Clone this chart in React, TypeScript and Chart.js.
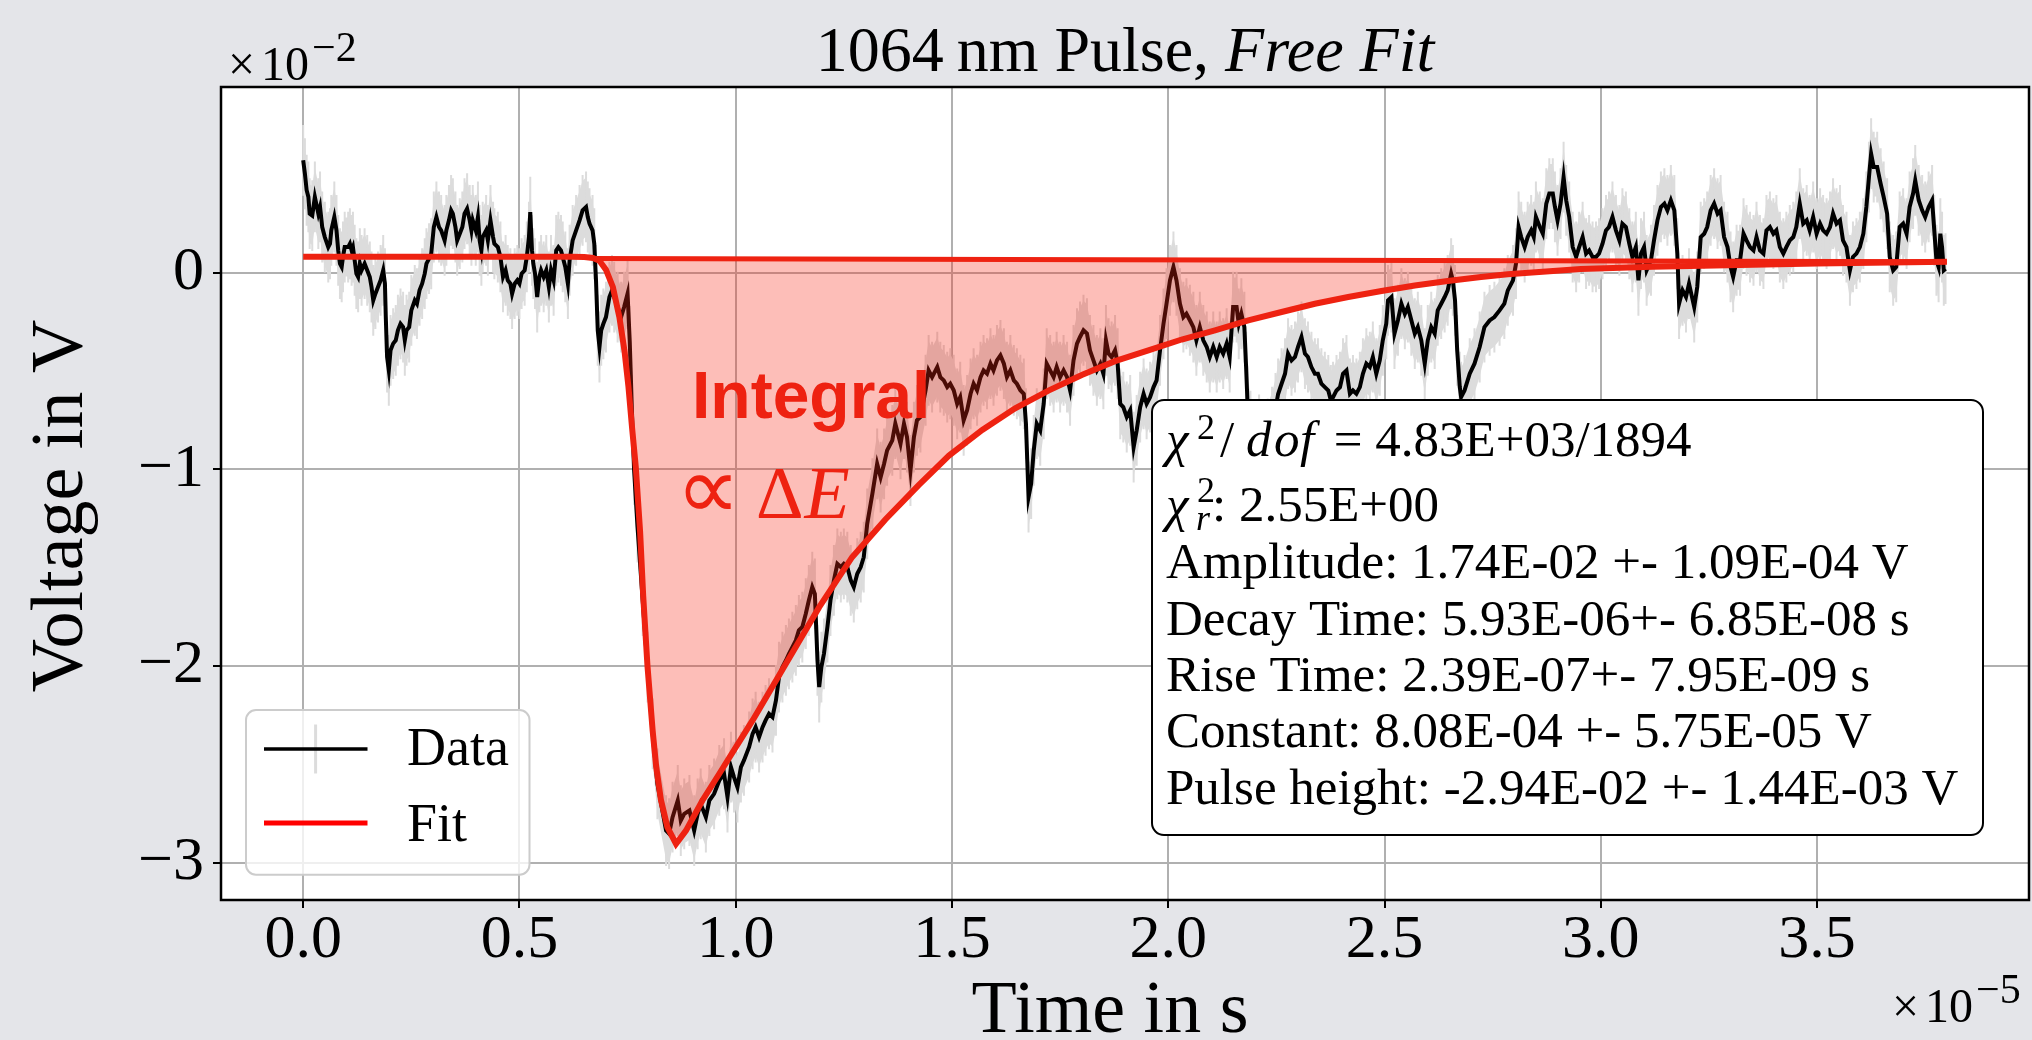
import React, { useEffect, useRef } from 'react';
import { Chart, registerables } from 'chart.js';

Chart.register(...registerables);

// ---- data (time in units of 1e-5 s, voltage in units of 1e-2 V) ----
const timeData = [
  0.000, 0.004, 0.008, 0.012, 0.015, 0.021, 0.027, 0.035, 0.039, 0.044,
  0.050, 0.058, 0.062, 0.065, 0.072, 0.077, 0.081, 0.085, 0.089, 0.092,
  0.096, 0.104, 0.108, 0.112, 0.115, 0.119, 0.123, 0.127, 0.131, 0.135,
  0.142, 0.148, 0.154, 0.158, 0.162, 0.167, 0.173, 0.179, 0.185, 0.189,
  0.191, 0.194, 0.198, 0.202, 0.208, 0.214, 0.219, 0.225, 0.231, 0.235,
  0.239, 0.245, 0.250, 0.258, 0.263, 0.269, 0.275, 0.281, 0.285, 0.291,
  0.296, 0.302, 0.308, 0.314, 0.319, 0.327, 0.331, 0.337, 0.342, 0.346,
  0.352, 0.356, 0.362, 0.368, 0.373, 0.379, 0.385, 0.389, 0.392, 0.399,
  0.404, 0.408, 0.412, 0.415, 0.423, 0.427, 0.433, 0.439, 0.442, 0.450,
  0.456, 0.462, 0.468, 0.473, 0.479, 0.483, 0.489, 0.495, 0.500, 0.505,
  0.512, 0.517, 0.522, 0.525, 0.529, 0.532, 0.536, 0.541, 0.546, 0.550,
  0.556, 0.562, 0.568, 0.573, 0.579, 0.585, 0.590, 0.596, 0.600, 0.606,
  0.612, 0.616, 0.623, 0.631, 0.639, 0.646, 0.654, 0.658, 0.662, 0.669,
  0.673, 0.677, 0.681, 0.685, 0.689, 0.694, 0.700, 0.708, 0.714, 0.719,
  0.727, 0.735, 0.742, 0.750, 0.755, 0.760, 0.765, 0.773, 0.785, 0.796,
  0.808, 0.819, 0.839, 0.846, 0.854, 0.866, 0.873, 0.881, 0.893, 0.904,
  0.912, 0.919, 0.931, 0.939, 0.950, 0.962, 0.973, 0.981, 0.989, 0.996,
  1.004, 1.012, 1.019, 1.031, 1.039, 1.046, 1.054, 1.062, 1.069, 1.077,
  1.085, 1.093, 1.100, 1.108, 1.116, 1.123, 1.131, 1.139, 1.146, 1.154,
  1.162, 1.169, 1.177, 1.183, 1.189, 1.193, 1.198, 1.204, 1.212, 1.219,
  1.227, 1.235, 1.243, 1.250, 1.258, 1.266, 1.273, 1.281, 1.289, 1.296,
  1.304, 1.316, 1.327, 1.335, 1.343, 1.350, 1.362, 1.369, 1.381, 1.389,
  1.396, 1.404, 1.412, 1.419, 1.427, 1.439, 1.446, 1.454, 1.466, 1.473,
  1.481, 1.489, 1.496, 1.504, 1.512, 1.519, 1.527, 1.535, 1.543, 1.550,
  1.558, 1.566, 1.573, 1.581, 1.589, 1.596, 1.604, 1.612, 1.620, 1.627,
  1.635, 1.643, 1.650, 1.658, 1.666, 1.671, 1.677, 1.683, 1.689, 1.696,
  1.704, 1.712, 1.719, 1.727, 1.735, 1.742, 1.750, 1.758, 1.766, 1.773,
  1.781, 1.789, 1.796, 1.804, 1.812, 1.819, 1.827, 1.835, 1.843, 1.850,
  1.856, 1.862, 1.869, 1.877, 1.883, 1.889, 1.896, 1.904, 1.912, 1.920,
  1.927, 1.935, 1.943, 1.950, 1.958, 1.966, 1.973, 1.981, 1.989, 1.996,
  2.004, 2.012, 2.019, 2.027, 2.035, 2.042, 2.050, 2.058, 2.065, 2.073,
  2.081, 2.089, 2.096, 2.104, 2.112, 2.119, 2.127, 2.135, 2.142, 2.150,
  2.158, 2.163, 2.169, 2.176, 2.180, 2.183, 2.190, 2.200, 2.210, 2.220,
  2.230, 2.240, 2.248, 2.254, 2.262, 2.270, 2.277, 2.285, 2.293, 2.300,
  2.308, 2.316, 2.323, 2.331, 2.339, 2.346, 2.354, 2.362, 2.370, 2.376,
  2.381, 2.389, 2.397, 2.404, 2.412, 2.420, 2.427, 2.435, 2.443, 2.450,
  2.458, 2.466, 2.473, 2.481, 2.489, 2.496, 2.504, 2.508, 2.516, 2.523,
  2.531, 2.539, 2.547, 2.554, 2.562, 2.570, 2.577, 2.585, 2.593, 2.600,
  2.608, 2.616, 2.623, 2.631, 2.639, 2.646, 2.654, 2.658, 2.663, 2.668,
  2.674, 2.677, 2.685, 2.697, 2.708, 2.720, 2.731, 2.743, 2.754, 2.766,
  2.777, 2.785, 2.797, 2.804, 2.810, 2.816, 2.824, 2.831, 2.839, 2.845,
  2.850, 2.859, 2.866, 2.874, 2.881, 2.889, 2.894, 2.900, 2.907, 2.914,
  2.920, 2.927, 2.935, 2.943, 2.950, 2.958, 2.966, 2.973, 2.981, 2.989,
  2.996, 3.004, 3.012, 3.019, 3.027, 3.035, 3.043, 3.050, 3.058, 3.066,
  3.073, 3.081, 3.087, 3.093, 3.100, 3.106, 3.116, 3.123, 3.131, 3.139,
  3.147, 3.154, 3.162, 3.170, 3.177, 3.181, 3.189, 3.197, 3.204, 3.216,
  3.223, 3.231, 3.239, 3.246, 3.254, 3.262, 3.270, 3.277, 3.285, 3.293,
  3.300, 3.306, 3.314, 3.322, 3.330, 3.337, 3.345, 3.353, 3.360, 3.368,
  3.376, 3.383, 3.391, 3.399, 3.406, 3.414, 3.422, 3.429, 3.437, 3.445,
  3.452, 3.460, 3.468, 3.476, 3.483, 3.491, 3.499, 3.507, 3.514, 3.522,
  3.530, 3.537, 3.545, 3.553, 3.560, 3.568, 3.576, 3.583, 3.591, 3.599,
  3.607, 3.614, 3.620, 3.625, 3.631, 3.639, 3.647, 3.654, 3.662, 3.668,
  3.676, 3.683, 3.691, 3.699, 3.707, 3.714, 3.722, 3.727, 3.735, 3.743,
  3.750, 3.758, 3.766, 3.771, 3.776, 3.781, 3.785, 3.789, 3.793, 3.797,
];

const voltageData = [
  0.571, 0.503, 0.419, 0.385, 0.300, 0.290, 0.385, 0.300, 0.334, 0.232,
  0.181, 0.130, 0.147, 0.215, 0.283, 0.215, 0.113, 0.046, 0.029, 0.080,
  0.130, 0.130, 0.147, 0.113, 0.130, 0.063, -0.005, -0.022, 0.046, 0.012,
  0.046, 0.012, -0.022, -0.073, -0.141, -0.107, -0.073, -0.039, 0.012, -0.056,
  -0.226, -0.429, -0.497, -0.395, -0.361, -0.344, -0.293, -0.260, -0.277, -0.344,
  -0.293, -0.277, -0.192, -0.141, -0.158, -0.090, -0.056, -0.005, 0.046, 0.071,
  0.096, 0.232, 0.283, 0.232, 0.215, 0.164, 0.215, 0.266, 0.317, 0.300,
  0.232, 0.164, 0.198, 0.232, 0.300, 0.325, 0.266, 0.215, 0.266, 0.215,
  0.283, 0.164, 0.113, 0.181, 0.215, 0.164, 0.266, 0.181, 0.147, 0.130,
  0.080, -0.022, 0.012, -0.039, -0.056, -0.107, -0.056, -0.039, -0.056, -0.005,
  0.012, 0.080, 0.181, 0.308, 0.113, 0.046, -0.005, -0.124, -0.022, 0.012,
  -0.022, 0.012, -0.073, 0.012, -0.039, 0.113, 0.130, 0.113, 0.080, 0.029,
  -0.056, 0.063, 0.164, 0.215, 0.266, 0.317, 0.334, 0.283, 0.249, 0.215,
  0.147, -0.039, -0.293, -0.378, -0.293, -0.260, -0.226, -0.124, -0.090, -0.124,
  -0.175, -0.226, -0.175, -0.107, -0.350, -0.700, -1.000, -1.294, -1.667, -2.006,
  -2.345, -2.600, -2.837, -2.853, -2.769, -2.684, -2.786, -2.752, -2.735, -2.837,
  -2.752, -2.701, -2.769, -2.684, -2.650, -2.582, -2.548, -2.667, -2.514, -2.565,
  -2.616, -2.514, -2.480, -2.412, -2.345, -2.311, -2.362, -2.311, -2.277, -2.243,
  -2.260, -2.175, -2.057, -2.006, -1.972, -1.938, -1.904, -1.870, -1.819, -1.802,
  -1.734, -1.667, -1.599, -1.633, -1.972, -2.107, -2.006, -1.938, -1.802, -1.667,
  -1.565, -1.481, -1.497, -1.481, -1.497, -1.565, -1.599, -1.531, -1.497, -1.447,
  -1.277, -1.124, -0.972, -1.040, -0.972, -0.904, -0.853, -0.768, -0.870, -0.768,
  -0.836, -1.006, -0.836, -0.751, -0.734, -0.598, -0.497, -0.531, -0.480, -0.531,
  -0.548, -0.582, -0.565, -0.598, -0.667, -0.633, -0.751, -0.700, -0.616, -0.565,
  -0.598, -0.531, -0.497, -0.514, -0.463, -0.497, -0.446, -0.421, -0.463, -0.531,
  -0.497, -0.548, -0.565, -0.598, -0.616, -0.768, -1.141, -1.073, -0.904, -0.768,
  -0.802, -0.667, -0.463, -0.497, -0.531, -0.480, -0.531, -0.497, -0.531, -0.598,
  -0.446, -0.361, -0.327, -0.293, -0.310, -0.395, -0.446, -0.497, -0.463, -0.514,
  -0.344, -0.412, -0.429, -0.395, -0.463, -0.667, -0.684, -0.734, -0.700, -0.887,
  -0.802, -0.684, -0.616, -0.667, -0.633, -0.582, -0.548, -0.395, -0.260, -0.158,
  -0.039, 0.029, -0.039, -0.158, -0.226, -0.209, -0.242, -0.277, -0.344, -0.277,
  -0.344, -0.378, -0.429, -0.378, -0.429, -0.378, -0.412, -0.361, -0.429, -0.175,
  -0.175, -0.260, -0.209, -0.277, -0.480, -0.650, -0.780, -0.850, -0.800, -0.880,
  -0.820, -0.760, -0.690, -0.617, -0.565, -0.514, -0.412, -0.446, -0.429, -0.378,
  -0.327, -0.412, -0.429, -0.480, -0.514, -0.514, -0.565, -0.582, -0.599, -0.650,
  -0.633, -0.599, -0.582, -0.514, -0.497, -0.616, -0.599, -0.616, -0.582, -0.514,
  -0.463, -0.480, -0.429, -0.514, -0.446, -0.344, -0.260, -0.141, -0.124, -0.310,
  -0.242, -0.158, -0.209, -0.175, -0.242, -0.310, -0.277, -0.344, -0.463, -0.344,
  -0.277, -0.310, -0.192, -0.158, -0.124, -0.090, -0.005, -0.039, -0.141, -0.395,
  -0.582, -0.633, -0.599, -0.514, -0.463, -0.378, -0.277, -0.243, -0.226, -0.192,
  -0.158, -0.090, -0.039, 0.046, 0.232, 0.181, 0.130, 0.181, 0.215, 0.181,
  0.283, 0.232, 0.198, 0.351, 0.402, 0.402, 0.334, 0.266, 0.351, 0.486,
  0.368, 0.283, 0.130, 0.080, 0.130, 0.181, 0.097, 0.113, 0.080, 0.080,
  0.097, 0.147, 0.215, 0.232, 0.283, 0.215, 0.164, 0.249, 0.232, 0.147,
  0.080, 0.130, -0.039, 0.097, 0.130, 0.012, 0.063, 0.164, 0.266, 0.334,
  0.351, 0.317, 0.368, 0.317, 0.097, -0.158, -0.090, -0.124, -0.056, -0.175,
  -0.073, 0.181, 0.198, 0.232, 0.317, 0.351, 0.300, 0.317, 0.181, 0.130,
  0.029, -0.022, 0.063, 0.063, 0.198, 0.164, 0.130, 0.113, 0.181, 0.113,
  0.097, 0.215, 0.232, 0.198, 0.215, 0.130, 0.097, 0.130, 0.164, 0.181,
  0.232, 0.351, 0.249, 0.266, 0.215, 0.283, 0.198, 0.249, 0.215, 0.198,
  0.232, 0.300, 0.249, 0.266, 0.164, 0.130, 0.012, 0.080, 0.097, 0.130,
  0.198, 0.334, 0.486, 0.605, 0.537, 0.537, 0.452, 0.385, 0.300, 0.080,
  0.012, 0.029, 0.232, 0.249, 0.198, 0.334, 0.402, 0.469, 0.368, 0.317,
  0.283, 0.334, 0.368, 0.215, 0.063, 0.029, 0.198, 0.130, 0.012, 0.020,
];

// half-length of the vertical error bars (1e-2 V)
const voltageError = 0.15;

// fitted pulse curve
const fitTime = [
  0.000, 0.500, 0.620, 0.650, 0.670, 0.685, 0.700, 0.716, 0.731, 0.743,
  0.752, 0.760, 0.769, 0.779, 0.786, 0.796, 0.808, 0.816, 0.827, 0.842,
  0.862, 0.885, 0.923, 0.962, 1.039, 1.116, 1.193, 1.269, 1.346, 1.423,
  1.493, 1.570, 1.646, 1.723, 1.800, 1.877, 1.954, 2.031, 2.108, 2.185,
  2.262, 2.339, 2.416, 2.493, 2.570, 2.646, 2.723, 2.785, 2.954, 3.120,
  3.293, 3.500, 3.800,
];
const fitVoltage = [
  0.081, 0.081, 0.081, 0.080, 0.075, 0.060, 0.015, -0.073, -0.226, -0.400,
  -0.580, -0.780, -0.990, -1.320, -1.640, -2.000, -2.330, -2.510, -2.680, -2.820,
  -2.905, -2.837, -2.684, -2.548, -2.277, -1.989, -1.701, -1.447, -1.255, -1.080,
  -0.930, -0.800, -0.690, -0.600, -0.520, -0.450, -0.395, -0.340, -0.293, -0.243,
  -0.200, -0.158, -0.124, -0.093, -0.065, -0.042, -0.022, -0.008, 0.018, 0.030,
  0.038, 0.046, 0.055,
];

// straight edge that closes the shaded "integral" region
const areaEdgeTime = [0.675, 3.8];
const areaEdgeVoltage = [0.072, 0.055];

const xTicks = [0, 0.5, 1.0, 1.5, 2.0, 2.5, 3.0, 3.5];
const yTicks = [-3, -2, -1, 0];
const xRange = [-0.19, 3.99];
const yRange = [-3.19, 0.944];

const titleRegular = '1064\u2009nm Pulse, ';
const titleItalic = 'Free Fit';
const xLabel = 'Time in s';
const yLabel = 'Voltage in V';
const legendLabels = ['Data', 'Fit'];
const integralLabel = 'Integral';
const chiLine = ' = 4.83E+03/1894';
const chiRedLine = ': 2.55E+00';
const paramLines = [
  'Amplitude: 1.74E-02 +- 1.09E-04 V',
  'Decay Time: 5.93E-06+- 6.85E-08 s',
  'Rise Time: 2.39E-07+- 7.95E-09 s',
  'Constant: 8.08E-04 +- 5.75E-05 V',
  'Pulse height: -2.94E-02 +- 1.44E-03 V',
];

const SERIF = "'Liberation Serif', 'Times New Roman', serif";
const SANS = "'Liberation Sans', Arial, sans-serif";
const ACCENT = '#ee2211';
const BG = '#e4e5e9';

function roundRect(ctx: CanvasRenderingContext2D, x: number, y: number, w: number, h: number, r: number) {
  ctx.beginPath();
  ctx.moveTo(x + r, y);
  ctx.lineTo(x + w - r, y);
  ctx.arcTo(x + w, y, x + w, y + r, r);
  ctx.lineTo(x + w, y + h - r);
  ctx.arcTo(x + w, y + h, x + w - r, y + h, r);
  ctx.lineTo(x + r, y + h);
  ctx.arcTo(x, y + h, x, y + h - r, r);
  ctx.lineTo(x, y + r);
  ctx.arcTo(x, y, x + r, y, r);
  ctx.closePath();
}

const backgroundPlugin = {
  id: 'plotBackground',
  beforeDraw(chart: any) {
    const { ctx, chartArea: a } = chart;
    ctx.save();
    ctx.fillStyle = '#ffffff';
    ctx.fillRect(a.left, a.top, a.right - a.left, a.bottom - a.top);
    ctx.restore();
  },
};

const errorBandPlugin = {
  id: 'errorBand',
  beforeDatasetsDraw(chart: any) {
    const { ctx, chartArea: a } = chart;
    const xs = chart.scales.x;
    const ys = chart.scales.y;
    ctx.save();
    ctx.beginPath();
    ctx.rect(a.left, a.top, a.right - a.left, a.bottom - a.top);
    ctx.clip();
    ctx.fillStyle = '#dcdcdc';
    ctx.beginPath();
    for (let i = 0; i < timeData.length; i++) {
      const px = xs.getPixelForValue(timeData[i]);
      const py = ys.getPixelForValue(voltageData[i] + voltageError);
      if (i === 0) ctx.moveTo(px, py);
      else ctx.lineTo(px, py);
    }
    for (let i = timeData.length - 1; i >= 0; i--) {
      ctx.lineTo(xs.getPixelForValue(timeData[i]), ys.getPixelForValue(voltageData[i] - voltageError));
    }
    ctx.closePath();
    ctx.fill();
    // vertical bars for the jagged error-bar look
    ctx.strokeStyle = '#dcdcdc';
    ctx.lineWidth = 2;
    ctx.beginPath();
    for (let i = 0; i < timeData.length; i++) {
      const px = xs.getPixelForValue(timeData[i]);
      ctx.moveTo(px, ys.getPixelForValue(voltageData[i] + voltageError * 1.2));
      ctx.lineTo(px, ys.getPixelForValue(voltageData[i] - voltageError * 1.2));
    }
    ctx.stroke();
    ctx.restore();
  },
};

const decorPlugin = {
  id: 'decor',
  afterDraw(chart: any) {
    const { ctx, chartArea: a } = chart;
    ctx.save();
    ctx.textAlign = 'left';
    ctx.textBaseline = 'alphabetic';

    // spines
    ctx.strokeStyle = '#000';
    ctx.lineWidth = 2.5;
    ctx.strokeRect(a.left, a.top, a.right - a.left, a.bottom - a.top);

    // "Integral ∝ ΔE"
    ctx.fillStyle = ACCENT;
    ctx.font = `bold 66px ${SANS}`;
    ctx.fillText(integralLabel, 692, 418);
    ctx.font = `90px 'DejaVu Sans', sans-serif`;
    ctx.fillText('\u221D', 676, 519);
    ctx.font = `74px ${SERIF}`;
    ctx.fillText('\u0394', 756, 518);
    const dW = ctx.measureText('\u0394').width;
    ctx.font = `italic 74px ${SERIF}`;
    ctx.fillText('E', 756 + dW + 1, 518);

    // title
    ctx.fillStyle = '#000';
    ctx.font = `64px ${SERIF}`;
    const w1 = ctx.measureText(titleRegular).width;
    ctx.font = `italic 64px ${SERIF}`;
    const w2 = ctx.measureText(titleItalic).width;
    const tx = (a.left + a.right) / 2 - (w1 + w2) / 2;
    ctx.font = `64px ${SERIF}`;
    ctx.fillText(titleRegular, tx, 71);
    ctx.font = `italic 64px ${SERIF}`;
    ctx.fillText(titleItalic, tx + w1, 71);

    // offset labels
    const drawOffset = (x: number, y: number, exp: string) => {
      ctx.font = `48px ${SERIF}`;
      ctx.fillText('\u00D7', x, y);
      const wx = ctx.measureText('\u00D7').width;
      ctx.fillText('10', x + wx + 6, y);
      const w10 = ctx.measureText('10').width;
      ctx.font = `42px ${SERIF}`;
      ctx.fillText(exp, x + wx + 6 + w10 + 3, y - 19);
    };
    drawOffset(228, 80, '\u22122');
    drawOffset(1892, 1022, '\u22125');

    // axis titles
    ctx.font = `74px ${SERIF}`;
    ctx.textAlign = 'center';
    ctx.fillText(xLabel, 1110, 1032);
    ctx.save();
    ctx.translate(82, 506);
    ctx.rotate(-Math.PI / 2);
    ctx.fillText(yLabel, 0, 0);
    ctx.restore();
    ctx.textAlign = 'left';

    // legend
    roundRect(ctx, 246, 710, 283.5, 164.7, 10);
    ctx.fillStyle = 'rgba(255,255,255,0.8)';
    ctx.fill();
    ctx.strokeStyle = '#cccccc';
    ctx.lineWidth = 2;
    ctx.stroke();
    ctx.strokeStyle = '#dcdcdc';
    ctx.lineWidth = 3;
    ctx.beginPath();
    ctx.moveTo(315.6, 724.5);
    ctx.lineTo(315.6, 773.5);
    ctx.stroke();
    ctx.strokeStyle = '#000';
    ctx.lineWidth = 3.5;
    ctx.beginPath();
    ctx.moveTo(264, 749);
    ctx.lineTo(367.5, 749);
    ctx.stroke();
    ctx.strokeStyle = 'red';
    ctx.lineWidth = 5;
    ctx.beginPath();
    ctx.moveTo(264, 823);
    ctx.lineTo(367.5, 823);
    ctx.stroke();
    ctx.fillStyle = '#000';
    ctx.font = `54px ${SERIF}`;
    ctx.fillText(legendLabels[0], 407, 764.5);
    ctx.fillText(legendLabels[1], 407, 841);

    // fit result box
    roundRect(ctx, 1152, 400, 831, 435, 12);
    ctx.fillStyle = '#ffffff';
    ctx.fill();
    ctx.strokeStyle = '#000';
    ctx.lineWidth = 2;
    ctx.stroke();
    ctx.fillStyle = '#000';
    const fs = 51;
    // line 1: chi^2 / dof = ...
    ctx.font = `italic ${fs}px ${SERIF}`;
    ctx.fillText('\u03C7', 1166, 456);
    ctx.font = `36px ${SERIF}`;
    ctx.fillText('2', 1197, 439);
    ctx.font = `${fs}px ${SERIF}`;
    ctx.fillText('/', 1220, 456);
    ctx.font = `italic ${fs}px ${SERIF}`;
    ctx.fillText('d', 1246, 456);
    ctx.fillText('o', 1274, 456);
    ctx.fillText('f', 1300, 456);
    ctx.font = `${fs}px ${SERIF}`;
    ctx.fillText(chiLine, 1321, 456);
    // line 2: chi^2_r
    ctx.font = `italic ${fs}px ${SERIF}`;
    ctx.fillText('\u03C7', 1166, 521);
    ctx.font = `36px ${SERIF}`;
    ctx.fillText('2', 1197, 502);
    ctx.font = `italic 36px ${SERIF}`;
    ctx.fillText('r', 1196, 530);
    ctx.font = `${fs}px ${SERIF}`;
    ctx.fillText(chiRedLine, 1212, 521);
    // parameter lines
    const baselines = [578, 634.6, 691.4, 747.4, 804];
    paramLines.forEach((s, i) => ctx.fillText(s, 1166, baselines[i]));

    ctx.restore();
  },
};

export default function App() {
  const canvasRef = useRef<HTMLCanvasElement>(null);

  useEffect(() => {
    const canvas = canvasRef.current;
    if (!canvas) return;
    const dataPoints = timeData.map((t, i) => ({ x: t, y: voltageData[i] }));
    const fitPoints = fitTime.map((t, i) => ({ x: t, y: fitVoltage[i] }));
    const edgePoints = areaEdgeTime.map((t, i) => ({ x: t, y: areaEdgeVoltage[i] }));
    const tickFont = { family: SERIF, size: 62, lineHeight: 1 };

    const chart = new Chart(canvas, {
      type: 'scatter',
      data: {
        datasets: [
          {
            label: 'Data',
            data: dataPoints,
            showLine: true,
            borderColor: '#000000',
            borderWidth: 4,
            pointRadius: 0,
            tension: 0,
            order: 3,
          },
          {
            label: 'Integral',
            data: edgePoints,
            showLine: true,
            borderColor: ACCENT,
            borderWidth: 5,
            pointRadius: 0,
            fill: 2,
            backgroundColor: 'rgba(250, 40, 20, 0.3)',
            order: 2,
          },
          {
            label: 'Fit',
            data: fitPoints,
            showLine: true,
            borderColor: ACCENT,
            borderWidth: 6,
            pointRadius: 0,
            tension: 0,
            order: 1,
          },
        ],
      } as any,
      options: {
        animation: false,
        responsive: false,
        maintainAspectRatio: false,
        devicePixelRatio: 1,
        events: [],
        layout: { padding: { top: 87, right: 3, left: 0, bottom: 0 } },
        plugins: {
          legend: { display: false },
          title: { display: false },
          tooltip: { enabled: false },
        },
        scales: {
          x: {
            type: 'linear',
            min: xRange[0],
            max: xRange[1],
            afterBuildTicks: (s: any) => {
              s.ticks = xTicks.map((v) => ({ value: v }));
            },
            afterFit: (s: any) => {
              s.height = 140;
            },
            ticks: {
              callback: (v: any) => Number(v).toFixed(1),
              font: tickFont,
              color: '#000',
              padding: 2,
              maxRotation: 0,
              autoSkip: false,
            },
            grid: { color: '#b0b0b0', lineWidth: 2, tickColor: '#000', tickLength: 8, tickWidth: 2 },
            border: { display: false },
          },
          y: {
            type: 'linear',
            min: yRange[0],
            max: yRange[1],
            afterBuildTicks: (s: any) => {
              s.ticks = yTicks.map((v) => ({ value: v }));
            },
            afterFit: (s: any) => {
              s.width = 221;
            },
            ticks: {
              callback: (v: any) => (Number(v) === 0 ? '0' : '\u2212' + Math.abs(Number(v))),
              font: tickFont,
              color: '#000',
              padding: 9,
              autoSkip: false,
            },
            grid: { color: '#b0b0b0', lineWidth: 2, tickColor: '#000', tickLength: 8, tickWidth: 2 },
            border: { display: false },
          },
        },
      } as any,
      plugins: [backgroundPlugin, errorBandPlugin, decorPlugin],
    });
    return () => chart.destroy();
  }, []);

  return (
    <div style={{ position: 'fixed', left: 0, top: 0, width: 2032, height: 1040, background: BG }}>
      <canvas ref={canvasRef} width={2032} height={1040} style={{ display: 'block', width: 2032, height: 1040 }} />
    </div>
  );
}
